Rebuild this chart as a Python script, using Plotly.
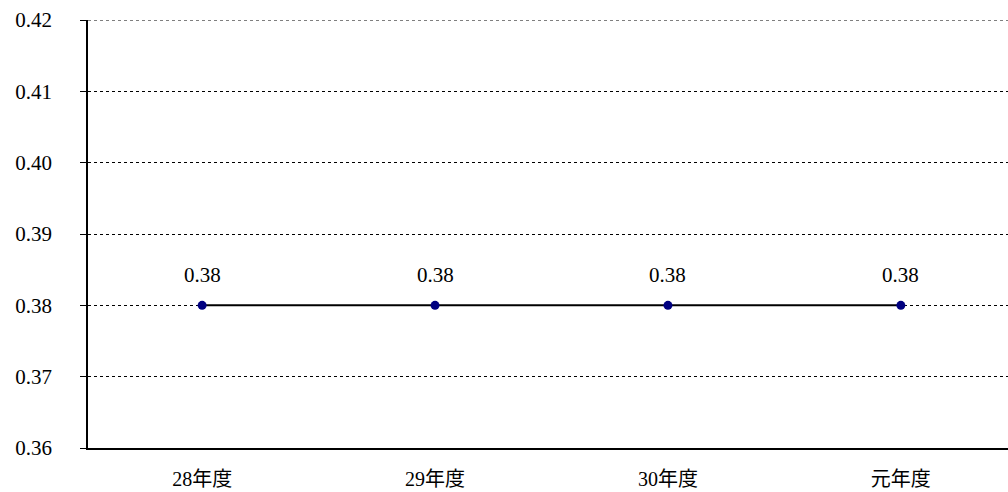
import plotly.graph_objects as go

# 年度別の推移
categories = ["28年度", "29年度", "30年度", "元年度"]
values = [0.38, 0.38, 0.38, 0.38]
y_ticks = [0.36, 0.37, 0.38, 0.39, 0.40, 0.41, 0.42]

font_family = "Liberation Serif, DejaVu Serif, Noto Sans CJK JP, serif"

fig = go.Figure()
fig.add_trace(go.Scatter(
    x=list(range(len(categories))),
    y=values,
    mode="lines+markers",
    line=dict(color="#000000", width=2),
    marker=dict(color="#000080", size=9),
    showlegend=False,
    hoverinfo="skip",
))

for i, v in enumerate(values):
    fig.add_annotation(
        x=i, y=v, text=f"{v:.2f}", showarrow=False,
        yshift=30, font=dict(family=font_family, size=21, color="#000000"),
    )

# dotted line along the top of the value range
fig.add_shape(
    type="line", xref="paper", yref="y",
    x0=0, x1=1, y0=y_ticks[-1], y1=y_ticks[-1],
    line=dict(color="#000000", width=1, dash="dot"),
)

fig.update_layout(
    width=1008, height=492,
    margin=dict(l=88, r=0, t=20, b=44),
    paper_bgcolor="white", plot_bgcolor="white",
    font=dict(family=font_family, size=21, color="#000000"),
)
fig.update_xaxes(
    range=[-0.49, 3.46],
    tickmode="array",
    tickvals=list(range(len(categories))),
    ticktext=categories,
    showgrid=False, zeroline=False,
    showline=True, linecolor="#000000", linewidth=1.5,
    ticks="", ticklabelstandoff=12,
    tickfont=dict(family="Liberation Serif, Noto Sans CJK JP", size=20),
)
fig.update_yaxes(
    range=[0.36, 0.42],
    tickmode="array",
    tickvals=y_ticks,
    tickformat=".2f",
    showgrid=True, gridcolor="#000000", gridwidth=1, griddash="dot",
    zeroline=False,
    showline=True, linecolor="#000000", linewidth=1.5,
    ticks="outside", ticklen=6, tickcolor="#000000", tickwidth=1,
    ticklabelstandoff=24,
)

fig.write_html("out.html")
